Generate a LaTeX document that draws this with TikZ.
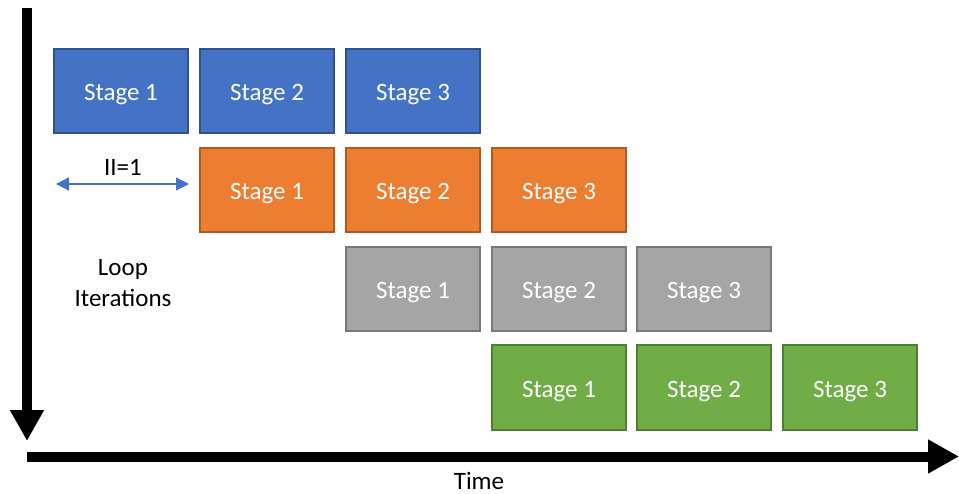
\documentclass[tikz,border=0pt]{standalone}
\usepackage{fontspec}
\setmainfont{Carlito}
\usetikzlibrary{arrows.meta}
\definecolor{bfill}{HTML}{4472C4}\definecolor{bdraw}{HTML}{2F528F}
\definecolor{ofill}{HTML}{ED7D31}\definecolor{odraw}{HTML}{AE5A21}
\definecolor{gfill}{HTML}{A5A5A5}\definecolor{gdraw}{HTML}{787878}
\definecolor{nfill}{HTML}{70AD47}\definecolor{ndraw}{HTML}{507E32}
\tikzset{
  stagebox/.style={rectangle, minimum width=134pt, minimum height=84pt, line width=2pt, text=white, inner sep=0pt, text height=20pt, text depth=0pt, font=\fontsize{25}{29}\selectfont},
  sb/.style={stagebox, fill=bfill, draw=bdraw},
  so/.style={stagebox, fill=ofill, draw=odraw},
  sg/.style={stagebox, fill=gfill, draw=gdraw},
  sn/.style={stagebox, fill=nfill, draw=ndraw},
  axis/.style={line width=10pt, -{Triangle[length=31pt,width=32pt]}},
  lbl/.style={font=\fontsize{25}{29}\selectfont, inner sep=0pt, text=black}
}
\begin{document}
\begin{tikzpicture}[x=1pt,y=-1pt]
\useasboundingbox (0,0) rectangle (959,494);
% row 1
\node[sb] (a1) at (121,91) {Stage 1};
\node[sb] (a2) at (267,91) {Stage 2};
\node[sb] (a3) at (413,91) {Stage 3};
% row 2
\node[so] (b1) at (267,190) {Stage 1};
\node[so] (b2) at (413,190) {Stage 2};
\node[so] (b3) at (559,190) {Stage 3};
% row 3
\node[sg] (c1) at (413,289) {Stage 1};
\node[sg] (c2) at (559,289) {Stage 2};
\node[sg] (c3) at (704,289) {Stage 3};
% row 4
\node[sn] (d1) at (559,387.5) {Stage 1};
\node[sn] (d2) at (704,387.5) {Stage 2};
\node[sn] (d3) at (850,387.5) {Stage 3};
% axes
\coordinate (vtop) at (27,8);
\coordinate (vend) at (27,441);
\coordinate (hstart) at (27,456.5);
\coordinate (hend) at (959,456.5);
\draw[axis] (vtop) -- (vend);
\draw[axis] (hstart) -- (hend);
\node[lbl] (time) at (479,481) {Time};
% II=1
\coordinate (iil) at (56,184);
\coordinate (iir) at (189,184);
\draw[bfill, line width=1.3pt, {Triangle[length=13pt,width=13pt]}-{Triangle[length=13pt,width=13pt]}] (iil) -- (iir);
\node[lbl] (ii) at (123,167) {II=1};
\node[lbl, align=center] (loop) at (123,283) {Loop\\[2pt]Iterations};
\end{tikzpicture}
\end{document}
